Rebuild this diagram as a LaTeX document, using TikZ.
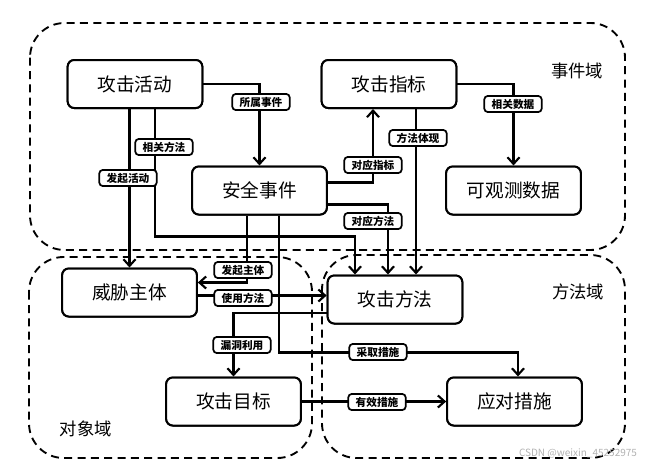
\documentclass[tikz,border=0pt]{standalone}
\usepackage{fontspec}
\setmainfont{Noto Sans CJK SC}
\usetikzlibrary{arrows.meta,calc}
\begin{document}
\begin{tikzpicture}[x=0.75pt,y=-0.75pt,
  dom/.style={draw=black,line width=1.4pt,dash pattern=on 6pt off 4pt,rounded corners=26pt},
  box/.style={draw=black,line width=1.5pt,fill=white,rounded corners=5pt,minimum width=101pt,minimum height=36pt,inner sep=0pt,font=\fontsize{14}{16}\selectfont},
  tag/.style={draw=black,line width=1.3pt,fill=white,rounded corners=2.5pt,minimum width=43pt,minimum height=12pt,inner sep=0pt,font=\bfseries\fontsize{8}{9}\selectfont},
  domlabel/.style={font=\fontsize{13}{15}\selectfont},
  conn/.style={draw=black,line width=2pt},
  arr/.style={conn,-{Straight Barb[length=5pt,width=9pt,line width=1.6pt]}}]
\useasboundingbox (0,0) rectangle (651,468);
% domains
\draw[dom] (30,23) rectangle (625,250);
\draw[dom] (29,257) rectangle (312,458);
\draw[dom] (322,255) rectangle (625,458);
\node[domlabel] (ljsj) at (577,71) {事件域};
\node[domlabel] (ljff) at (578,292) {方法域};
\node[domlabel] (ljdx) at (86,429) {对象域};
% node positions
\coordinate (hd) at (135,84);
\coordinate (zb) at (389,84);
\coordinate (aq) at (259.5,190.5);
\coordinate (gc) at (513.5,190.5);
\coordinate (wx) at (129.5,292.5);
\coordinate (ff) at (395,299.5);
\coordinate (mb) at (233.5,401.5);
\coordinate (yd) at (514.5,401.5);
% nodes
\node[box] (hd) at (hd) {攻击活动};
\node[box] (zb) at (zb) {攻击指标};
\node[box] (aq) at (aq) {安全事件};
\node[box] (gc) at (gc) {可观测数据};
\node[box] (wx) at (wx) {威胁主体};
\node[box] (ff) at (ff) {攻击方法};
\node[box] (mb) at (mb) {攻击目标};
\node[box] (yd) at (yd) {应对措施};
% connectors
\draw[arr] (hd.east) -| (aq.north);
\draw[arr] (zb.east) -| (gc.north);
\draw[arr] (wx.north |- hd.south) -- (wx.north);
\draw[arr] ($(hd.south)+(20,0)$) |- ($(ff.north)+(-40,-38)$) -- ($(ff.north)+(-40,0)$);
\draw[arr] ($(aq.east)+(0,-8)$) -| ($(zb.south)+(-16,0)$);
\draw[arr] ($(aq.east)+(0,14)$) -| ($(ff.north)+(-7,0)$);
\coordinate (p6) at ($(zb.south)+(27,0)$);
\draw[arr] (p6) -- (p6 |- ff.north);
\draw[arr] ($(aq.south)+(-12.5,0)$) |- ($(wx.east)+(0,-10)$);
\coordinate (p8) at ($(wx.east)+(0,3)$);
\draw[arr] (p8) -- (p8 -| ff.west);
\draw[arr] ($(ff.west)+(0,13.5)$) -| (mb.north);
\draw[arr] ($(aq.south)+(19.5,0)$) |- ($(yd.north)+(3.5,-24)$) -- ($(yd.north)+(3.5,0)$);
\draw[arr] (mb.east) -- (yd.west);
% redraw nodes on top of lines
\node[box] at (hd) {攻击活动};
\node[box] at (zb) {攻击指标};
\node[box] at (aq) {安全事件};
\node[box] at (gc) {可观测数据};
\node[box] at (wx) {威胁主体};
\node[box] at (ff) {攻击方法};
\node[box] at (mb) {攻击目标};
\node[box] at (yd) {应对措施};
% tags
\node[tag] (t1) at (261,102) {所属事件};
\node[tag] (t2) at (128,178) {发起活动};
\node[tag] (t3) at (164,147) {相关方法};
\node[tag] (t4) at (373,165) {对应指标};
\node[tag] (t5) at (373,221) {对应方法};
\node[tag] (t6) at (418,138) {方法体现};
\node[tag] (t7) at (243,270) {发起主体};
\node[tag] (t8) at (243,298) {使用方法};
\node[tag] (t9) at (242,345) {漏洞利用};
\node[tag] (t10) at (378,352) {采取措施};
\node[tag] (t11) at (377,402) {有效措施};
\node[tag] (t12) at (513,104) {相关数据};
\node[text=black!30,font=\fontsize{7.5}{8}\selectfont,inner sep=0pt] (wm) at (578,453) {CSDN @weixin\_45252975};
\end{tikzpicture}
\end{document}
